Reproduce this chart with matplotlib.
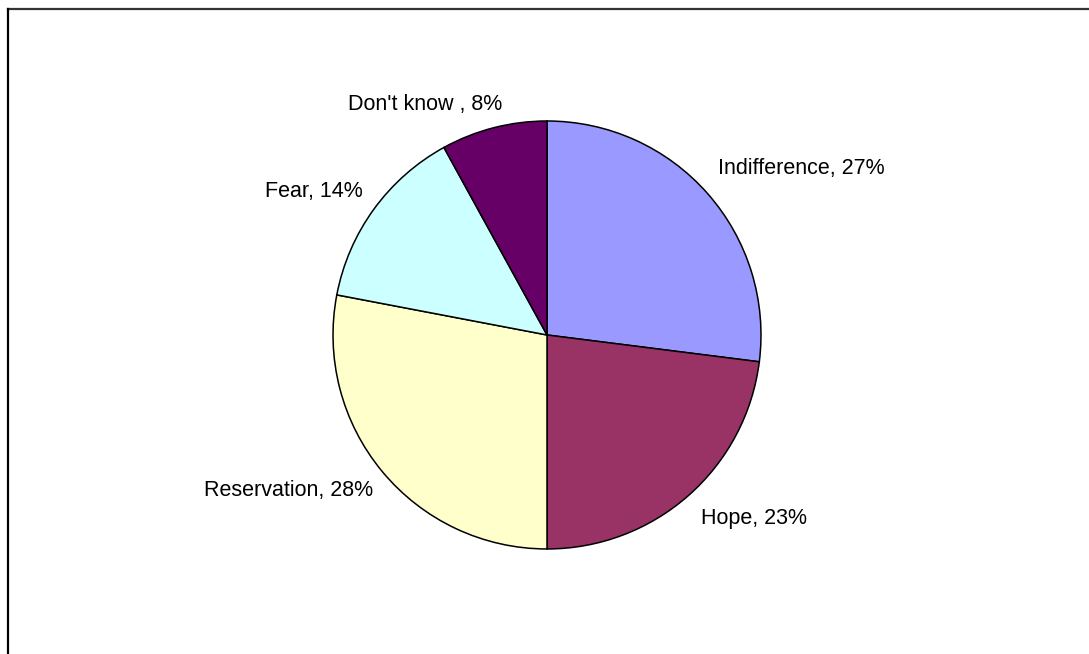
import matplotlib
matplotlib.use("Agg")
import matplotlib.pyplot as plt
from matplotlib.lines import Line2D

plt.rcParams['font.family'] = ['Liberation Sans', 'DejaVu Sans']

labels = ['Indifference', 'Hope', 'Reservation', 'Fear', "Don't know "]
values = [27, 23, 28, 14, 8]
colors = ['#9999FF', '#993366', '#FFFFCC', '#CCFFFF', '#660066']

fig = plt.figure(figsize=(10.89, 6.54), dpi=100)
ax = fig.add_axes([0.3058, 0.1606, 0.393, 0.6544])

texts = [f"{n}, {v}%" for n, v in zip(labels, values)]
wedges, lbls = ax.pie(values, labels=texts, colors=colors, startangle=90,
                      counterclock=False, labeldistance=1.11,
                      wedgeprops=dict(edgecolor='black', linewidth=1.1),
                      textprops=dict(fontsize=15.5, color='black'))
ax.set_xlim(-1, 1)
ax.set_ylim(-1, 1)
ax.set_aspect('equal')

# small label nudges (in pixels) to match excel-style placement
nudges = [(-7, 9), (-3, -5), (9, -4), (8, 4), (14, 0)]
px = 2.0 / (0.393 * 1089)
for t, (dx, dy) in zip(lbls, nudges):
    x, y = t.get_position()
    t.set_position((x + dx * px, y + dy * px))

# outer frame (only top and left edges visible)
fig.add_artist(Line2D([0.0069, 1.0], [0.9855, 0.9855], color='#333333', lw=1.6))
fig.add_artist(Line2D([0.0069, 0.0069], [0.0, 0.9855], color='black', lw=1.6))

fig.savefig('out.png', dpi=100)
plt.close(fig)
